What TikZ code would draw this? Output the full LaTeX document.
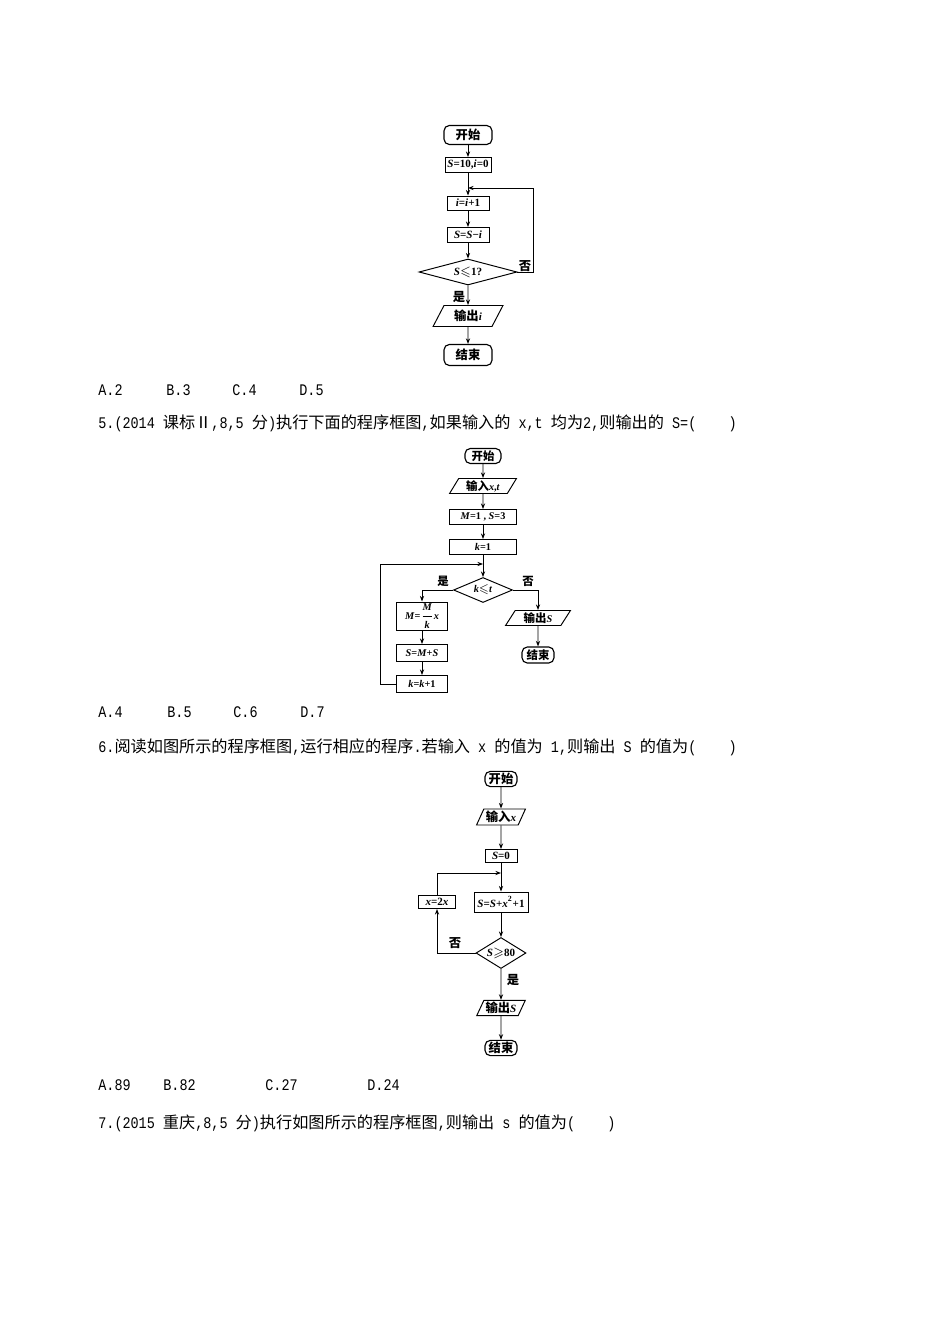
\documentclass[tikz,border=0pt]{standalone}
\usepackage{amsmath,amssymb}
\usepackage{fontspec}
\newfontfamily\cjk{Noto Sans CJK SC}
\newfontfamily\tms[Scale=0.9]{Liberation Serif}
\newfontfamily\lat[FakeStretch=0.833]{Liberation Mono}
\usepackage{tikz}
\usetikzlibrary{arrows.meta, shapes.geometric}

\newcommand{\chartfont}{\tms\bfseries\boldmath}
\newcommand{\pagefont}{\cjk\fontsize{9.2}{11}\selectfont}
\newcommand{\hw}[1]{{\lat #1}}
\newcommand{\zh}[1]{{\cjk #1}}
\newcommand{\vr}[1]{\textit{#1}}

\begin{document}
\begin{tikzpicture}[
  x=0.02cm, y=-0.02cm,
  >={Stealth[length=3.2pt, width=2.4pt]},
  termbox/.style={draw, line width=0.65pt, rounded corners=3pt, inner sep=1pt, font=\chartfont\fontsize{#1}{8}\selectfont},
  procbox/.style={draw, line width=0.55pt, inner sep=1pt, font=\chartfont\fontsize{#1}{8}\selectfont},
  iobox/.style={trapezium, trapezium left angle=65, trapezium right angle=115, trapezium stretches=true, draw, line width=0.55pt, inner sep=1pt, font=\chartfont\fontsize{#1}{8}\selectfont},
  decide/.style={diamond, draw, line width=0.55pt, inner sep=0pt, font=\chartfont\fontsize{#1}{8}\selectfont},
  flow/.style={->, line width=0.5pt},
  yesno/.style={inner sep=0pt, font=\cjk\bfseries\fontsize{#1}{8}\selectfont},
  pageline/.style={anchor=west, inner sep=0pt, font=\pagefont}
]
\path[use as bounding box, fill=white] (0,0) rectangle (950,1344);

% Chart for question 4
\node[termbox=7, minimum width=0.96cm, minimum height=0.38cm] (c1start) at (468,135) {\zh{开始}};
\node[procbox=7, minimum width=0.92cm, minimum height=0.30cm] (c1init) at (468,165) {\vr{S}=10,\vr{i}=0};
\node[procbox=7, minimum width=0.84cm, minimum height=0.28cm] (c1inc) at (468,203) {\vr{i}=\vr{i}+1};
\node[procbox=7, minimum width=0.84cm, minimum height=0.30cm] (c1sub) at (468,235) {\vr{S}=\vr{S}−\vr{i}};
\node[decide=7, aspect=3.8, minimum width=1.96cm, minimum height=0.52cm] (c1test) at (468,272) {\vr{S}${\leqslant}$1?};
\node[iobox=7, minimum width=1.40cm, minimum height=0.42cm] (c1out) at (468,316) {\zh{输出}\vr{i}};
\node[termbox=7, minimum width=0.96cm, minimum height=0.42cm] (c1end) at (468,355) {\zh{结束}};
\coordinate (c1merge) at (468,188);
\coordinate (c1back) at (533,188);

\draw[flow] (c1start) -- (c1init);
\draw[flow] (c1init) -- (c1inc);
\draw[flow] (c1inc) -- (c1sub);
\draw[flow] (c1sub) -- (c1test);
\draw[flow] (c1test) -- (c1out);
\draw[flow] (c1out) -- (c1end);
\draw[flow] (c1test.east) -| (c1back) -- (c1merge);
\node[yesno=7] at (525,266) {否};
\node[yesno=7] at (459,297) {是};

% Options and question 5
\node[pageline] at (98,390) {\hw{A.2}};
\node[pageline] at (166,390) {\hw{B.3}};
\node[pageline] at (232,390) {\hw{C.4}};
\node[pageline] at (299,390) {\hw{D.5}};
\node[pageline] (q5) at (98,423) {\hw{5.(2014 }课标Ⅱ\hw{,8,5 }分\hw{)}执行下面的程序框图\hw{,}如果输入的\hw{ x,t }均为\hw{2,}则输出的\hw{ S=(}\hspace{2em}\hw{)}};

% Chart for question 5
\node[termbox=6.5, minimum width=0.72cm, minimum height=0.30cm] (c2start) at (483,456) {\zh{开始}};
\node[iobox=6.5, minimum width=1.34cm, minimum height=0.30cm] (c2in) at (483,486) {\zh{输入}\vr{x},\vr{t}};
\node[procbox=6.5, minimum width=1.34cm, minimum height=0.30cm] (c2init) at (483,517) {\vr{M}=1 , \vr{S}=3};
\node[procbox=6.5, minimum width=1.34cm, minimum height=0.30cm] (c2k) at (483,547) {\vr{k}=1};
\node[decide=6.5, aspect=2.4, minimum width=1.18cm, minimum height=0.50cm] (c2test) at (483,590) {\vr{k}${\leqslant}$\vr{t}};
\node[procbox=6.5, minimum width=1.02cm, minimum height=0.56cm] (c2upd) at (422,616) {\vr{M}=$\dfrac{\textit{M}}{\textit{k}}$\vr{x}};
\node[procbox=6.5, minimum width=1.02cm, minimum height=0.34cm] (c2sum) at (422,653) {\vr{S}=\vr{M}+\vr{S}};
\node[procbox=6.5, minimum width=1.02cm, minimum height=0.34cm] (c2inc) at (422,684) {\vr{k}=\vr{k}+1};
\node[iobox=6.5, minimum width=1.30cm, minimum height=0.30cm] (c2out) at (538,618) {\zh{输出}\vr{S}};
\node[termbox=6.5, minimum width=0.64cm, minimum height=0.32cm] (c2end) at (538,655) {\zh{结束}};
\coordinate (c2merge) at (483,564);
\coordinate (c2back) at (380,564);

\draw[flow] (c2start) -- (c2in);
\draw[flow] (c2in) -- (c2init);
\draw[flow] (c2init) -- (c2k);
\draw[flow] (c2k) -- (c2test);
\draw[flow] (c2test.west) -| (c2upd.north);
\draw[flow] (c2upd) -- (c2sum);
\draw[flow] (c2sum) -- (c2inc);
\draw[flow] (c2inc.west) -| (c2back) -- (c2merge);
\draw[flow] (c2test.east) -| (c2out.north);
\draw[flow] (c2out) -- (c2end);
\node[yesno=6.5] at (443,581) {是};
\node[yesno=6.5] at (528,581) {否};

% Options and question 6
\node[pageline] at (98,712) {\hw{A.4}};
\node[pageline] at (167,712) {\hw{B.5}};
\node[pageline] at (233,712) {\hw{C.6}};
\node[pageline] at (300,712) {\hw{D.7}};
\node[pageline] (q6) at (98,747) {\hw{6.}阅读如图所示的程序框图\hw{,}运行相应的程序\hw{.}若输入\hw{ x }的值为\hw{ 1,}则输出\hw{ S }的值为\hw{(}\hspace{2em}\hw{)}};

% Chart for question 6
\node[termbox=7, minimum width=0.64cm, minimum height=0.30cm] (c3start) at (501,779) {\zh{开始}};
\node[iobox=7, minimum width=0.98cm, minimum height=0.32cm] (c3in) at (501,817) {\zh{输入}\vr{x}};
\node[procbox=7, minimum width=0.64cm, minimum height=0.26cm] (c3init) at (501,856) {\vr{S}=0};
\node[procbox=7, minimum width=1.08cm, minimum height=0.40cm] (c3sum) at (501,902) {\vr{S}=\vr{S}+\vr{x}\textsuperscript{2}+1};
\node[procbox=7, minimum width=0.74cm, minimum height=0.26cm] (c3dbl) at (437,902) {\vr{x}=2\vr{x}};
\node[decide=7, aspect=1.6, minimum width=1.00cm, minimum height=0.62cm] (c3test) at (501,953) {\vr{S}${\geqslant}$80};
\node[iobox=7, minimum width=0.94cm, minimum height=0.30cm] (c3out) at (501,1008) {\zh{输出}\vr{S}};
\node[termbox=7, minimum width=0.64cm, minimum height=0.30cm] (c3end) at (501,1048) {\zh{结束}};
\coordinate (c3merge) at (501,873);
\coordinate (c3back) at (437,873);

\draw[flow] (c3start) -- (c3in);
\draw[flow] (c3in) -- (c3init);
\draw[flow] (c3init) -- (c3sum);
\draw[flow] (c3sum) -- (c3test);
\draw[flow] (c3test) -- (c3out);
\draw[flow] (c3out) -- (c3end);
\draw[flow] (c3test.west) -| (c3dbl.south);
\draw[flow] (c3dbl.north) -- (c3back) -- (c3merge);
\node[yesno=7] at (455,943) {否};
\node[yesno=7] at (513,980) {是};

% Options and question 7
\node[pageline] at (98,1085) {\hw{A.89}};
\node[pageline] at (163,1085) {\hw{B.82}};
\node[pageline] at (265,1085) {\hw{C.27}};
\node[pageline] at (367,1085) {\hw{D.24}};
\node[pageline] (q7) at (98,1123) {\hw{7.(2015 }重庆\hw{,8,5 }分\hw{)}执行如图所示的程序框图\hw{,}则输出\hw{ s }的值为\hw{(}\hspace{2em}\hw{)}};

\end{tikzpicture}
\end{document}
